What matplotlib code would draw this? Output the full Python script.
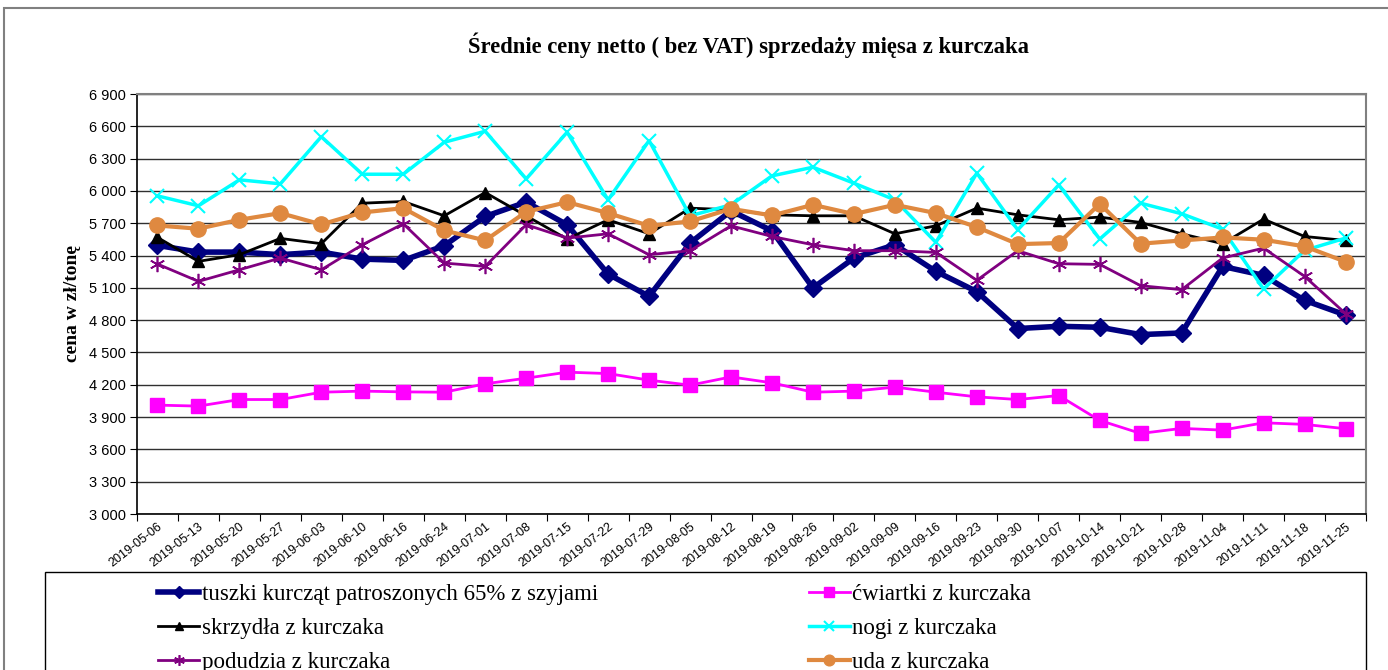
import numpy as np
import matplotlib
matplotlib.use('Agg')
import matplotlib.pyplot as plt
from matplotlib.patches import Rectangle
from matplotlib.ticker import FixedLocator, FuncFormatter

daty = ['2019-05-06', '2019-05-13', '2019-05-20', '2019-05-27', '2019-06-03', '2019-06-10',
        '2019-06-16', '2019-06-24', '2019-07-01', '2019-07-08', '2019-07-15', '2019-07-22',
        '2019-07-29', '2019-08-05', '2019-08-12', '2019-08-19', '2019-08-26', '2019-09-02',
        '2019-09-09', '2019-09-16', '2019-09-23', '2019-09-30', '2019-10-07', '2019-10-14',
        '2019-10-21', '2019-10-28', '2019-11-04', '2019-11-11', '2019-11-18', '2019-11-25']

tuszki = [5494, 5432, 5432, 5408, 5432, 5367, 5355, 5491, 5763, 5896, 5686, 5228, 5021, 5516, 5815,
          5630, 5099, 5377, 5500, 5253, 5065, 4722, 4743, 4734, 4666, 4681, 5299, 5216, 4984, 4848]
cwiartki = [4011, 4002, 4063, 4063, 4131, 4141, 4134, 4131, 4209, 4261, 4317, 4304, 4243, 4196, 4273,
            4218, 4131, 4141, 4178, 4131, 4088, 4063, 4100, 3869, 3748, 3795, 3779, 3847, 3832, 3792]
skrzydla = [5568, 5346, 5408, 5559, 5510, 5886, 5902, 5769, 5985, 5769, 5553, 5732, 5602, 5840, 5825,
            5778, 5769, 5769, 5602, 5676, 5840, 5778, 5732, 5757, 5707, 5602, 5510, 5738, 5577, 5540]
nogi = [5954, 5862, 6103, 6066, 6504, 6155, 6155, 6452, 6554, 6112, 6545, 5917, 6467, 5769, 5871,
        6140, 6220, 6072, 5917, 5522, 6165, 5639, 6056, 5553, 5886, 5788, 5645, 5089, 5448, 5562]
podudzia = [5321, 5160, 5268, 5377, 5268, 5500, 5695, 5330, 5299, 5686, 5562, 5602, 5408, 5445, 5676,
            5577, 5500, 5445, 5445, 5429, 5170, 5445, 5324, 5318, 5120, 5083, 5377, 5469, 5207, 4861]
uda = [5679, 5649, 5732, 5794, 5689, 5800, 5840, 5633, 5540, 5806, 5896, 5794, 5676, 5717, 5834,
       5772, 5871, 5785, 5871, 5794, 5664, 5506, 5516, 5880, 5510, 5540, 5568, 5547, 5485, 5343]

W, H = 1388, 670
fig = plt.figure(figsize=(W / 100, H / 100), dpi=100)
ax = fig.add_axes([137 / W, (H - 514) / H, (1366 - 137) / W, (514 - 94) / H])

x = np.arange(len(daty))

#serie w kolejnosci jak w Excelu
l1, = ax.plot(x, tuszki, color='#000080', lw=4, marker='D', ms=9, label='tuszki kurcząt patroszonych 65% z szyjami')
l2, = ax.plot(x, cwiartki, color='#FF00FF', lw=2, marker='s', ms=10, label='ćwiartki z kurczaka')
l3, = ax.plot(x, skrzydla, color='black', lw=2, marker='^', ms=8, label='skrzydła z kurczaka')
l4, = ax.plot(x, nogi, color='#00FFFF', lw=2.5, marker='x', ms=10, mew=1.5, label='nogi z kurczaka')
l5, = ax.plot(x, podudzia, color='#800080', lw=2, marker=(6, 2, 0), ms=11, mew=1.2, label='podudzia z kurczaka')
l6, = ax.plot(x, uda, color='#DF8940', lw=3, marker='o', ms=11, label='uda z kurczaka')

ax.set_xlim(-0.5, len(daty) - 0.5)
ax.set_ylim(3000, 6900)
ax.set_yticks(np.arange(3000, 6901, 300))
ax.yaxis.set_major_formatter(FuncFormatter(lambda v, p: '{:,}'.format(int(v)).replace(',', ' ')))
ax.grid(axis='y', color='#303030', lw=1)
ax.set_axisbelow(True)

#ticki miedzy kategoriami, etykiety na srodku
ax.xaxis.set_major_locator(FixedLocator(np.arange(-0.5, len(daty), 1.0)))
ax.xaxis.set_major_formatter(FuncFormatter(lambda v, p: ''))
ax.xaxis.set_minor_locator(FixedLocator(x))
ax.set_xticklabels(daty, minor=True, rotation=38, ha='right', rotation_mode='anchor',
                   fontsize=9, family='Liberation Sans')
ax.tick_params(axis='x', which='minor', length=0, pad=5)
ax.tick_params(axis='x', which='major', length=5, direction='out')
ax.tick_params(axis='y', length=5, direction='out', labelsize=10.5, pad=3)
for t in ax.get_yticklabels():
    t.set_family('Liberation Sans')

for s in ['top', 'right']:
    ax.spines[s].set_color('#808080')
    ax.spines[s].set_linewidth(1.5)
for s in ['left', 'bottom']:
    ax.spines[s].set_color('black')
    ax.spines[s].set_linewidth(1.2)

ax.set_ylabel('cena w zł/tonę', family='Liberation Serif', fontweight='bold', fontsize=14, labelpad=6)
fig.text(748 / W, (H - 45) / H, 'Średnie ceny netto ( bez VAT) sprzedaży mięsa z kurczaka',
         ha='center', va='center', family='Liberation Serif', fontweight='bold', fontsize=16.3)

#ramka calego wykresu i ramka legendy
fig.patches.append(Rectangle((4 / W, -0.1), 1.2, (H - 8) / H + 0.1, transform=fig.transFigure,
                             fill=False, edgecolor='#808080', lw=1.5))
fig.patches.append(Rectangle((45 / W, -0.1), (1366 - 45) / W, (H - 572) / H + 0.1, transform=fig.transFigure,
                             fill=False, edgecolor='black', lw=1))

leg = fig.legend([l1, l3, l5, l2, l4, l6], [l.get_label() for l in [l1, l3, l5, l2, l4, l6]],
                 ncol=2, loc='upper left', bbox_to_anchor=(158 / W, (H - 584) / H),
                 frameon=False, prop={'family': 'Liberation Serif', 'size': 16.5},
                 handlelength=1.8, handletextpad=0.1, labelspacing=0.57, columnspacing=9.2,
                 borderpad=0, borderaxespad=0, markerscale=0.7)

fig.savefig('out.png', dpi=100)
